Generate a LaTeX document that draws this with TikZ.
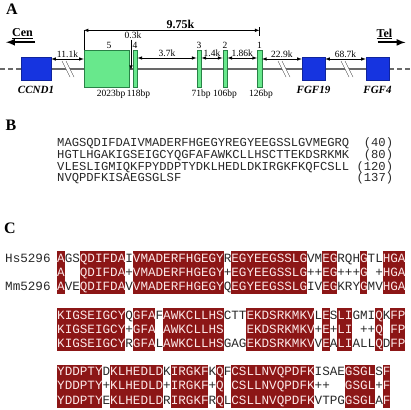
\documentclass[tikz,border=0pt]{standalone}
\usepackage{fontspec}
\setmainfont{Liberation Serif}
\setmonofont{Liberation Mono}
\usetikzlibrary{arrows,positioning,backgrounds}

\definecolor{geneblue}{RGB}{22,52,224}
\definecolor{exongreen}{RGB}{104,232,140}
\definecolor{exonline}{RGB}{40,130,70}
\definecolor{chromgray}{RGB}{105,105,105}
\definecolor{idred}{RGB}{140,22,22}
\definecolor{seqtext}{RGB}{40,40,40}
\definecolor{idtext}{RGB}{252,232,232}

\newcommand{\hl}[1]{\textcolor{idtext}{#1}}
% break marks on the chromosome line
\newcommand{\brk}[1]{\fill[white] ({#1-6},61) -- ({#1-2},61) -- ({#1+6},77) -- ({#1+2},77) -- cycle;
  \draw[chromgray!60!black] ({#1-6},61) -- ({#1+2},77) ({#1-2},61) -- ({#1+6},77)}
% red box over columns #2..#3 of an alignment block whose top is #1
\newcommand{\idbox}[3]{\fill[idred] ({57+(#2-1)*7.572},#1) rectangle ({57+#3*7.572},{#1+42.6})}

\begin{document}
\begin{tikzpicture}[x=1pt,y=-1pt,>=latex,thin]
  \tikzstyle{gene}=[draw=geneblue!70!black, fill=geneblue, minimum height=23pt, inner sep=0pt]
  \tikzstyle{exon}=[draw=exonline, fill=exongreen, minimum height=37pt, minimum width=4.5pt, inner sep=0pt]
  \tikzstyle{chrom}=[chromgray, line width=1.2pt]
  \tikzstyle{dist}=[line width=0.6pt]
  \tikzstyle{lbl}=[font=\fontsize{9.5}{10}\selectfont, inner sep=1pt]
  \tikzstyle{gname}=[font=\fontsize{11}{12}\selectfont\bfseries\itshape, inner sep=1pt]
  \tikzstyle{panel}=[font=\fontsize{16}{18}\selectfont\bfseries, inner sep=0pt]
  \tikzstyle{arm}=[font=\fontsize{12}{14}\selectfont\bfseries, inner sep=0pt]
  \tikzstyle{armarrow}=[->, line width=2pt]
  \tikzstyle{protseq}=[font=\fontsize{12.17}{14}\selectfont\ttfamily, text=seqtext, anchor=base west, inner sep=0pt]
  \tikzstyle{alnrow}=[font=\fontsize{12.62}{14}\selectfont\ttfamily, text=seqtext, anchor=base west, inner sep=0pt]

  \useasboundingbox (0,0) rectangle (410,410);

  % A: the locus
  \node[panel] (pa) at (12,9) {A};
  \node[arm] (cen) at (22.5,34) {\underline{Cen}};
  \node[arm] (tel) at (384.5,34) {\underline{Tel}};
  \draw[armarrow] ([shift={(2pt,-3pt)}]cen.south east) -- ([shift={(-6pt,-3pt)}]cen.south west);
  \draw[armarrow] ([shift={(1pt,-3pt)}]tel.south west) -- ([shift={(13pt,-3pt)}]tel.south east);

  \node[gene, minimum width=30pt] (ccnd) at (36,69) {};
  \node[exon, minimum width=45pt] (ex5) at (106.5,69) {};
  \node[exon] (ex4) at (135,69) {};
  \node[exon] (ex3) at (199,69) {};
  \node[exon] (ex2) at (225,69) {};
  \node[exon] (ex1) at (259.5,69) {};
  \node[gene, minimum width=23pt] (fgf19) at (313.5,69) {};
  \node[gene, minimum width=23pt] (fgf4) at (377.5,69) {};
  \coordinate (lend) at (0,69);
  \coordinate (rend) at (410,69);
  \begin{scope}[on background layer]
    \draw[chrom] (ccnd) -- (fgf4);
    \draw[chrom, dash pattern=on 5pt off 3pt] (lend) -- (ccnd);
    \draw[chrom, dash pattern=on 5pt off 3pt] (fgf4) -- (rend);
  \end{scope}
  \brk{68}; \brk{284}; \brk{347};

  \draw[dist,<->] ([yshift=10pt]ccnd.east) -- node[lbl,above]{11.1k} ([yshift=10pt]ex5.west);
  \draw[dist,<->] ([yshift=11pt]ex4.east) -- node[lbl,above]{3.7k} ([yshift=11pt]ex3.west);
  \draw[dist,<->] ([yshift=11pt]ex3.east) -- node[lbl,above]{1.4k} ([yshift=11pt]ex2.west);
  \draw[dist,<->] ([yshift=11pt]ex2.east) -- node[lbl,above]{1.86k} ([yshift=11pt]ex1.west);
  \draw[dist,<->] ([yshift=10pt]ex1.east) -- node[lbl,above]{22.9k} ([yshift=10pt]fgf19.west);
  \draw[dist,<->] ([yshift=10pt]fgf19.east) -- node[lbl,above]{68.7k} ([yshift=10pt]fgf4.west);

  \draw[dist] (ex5.north west) -- ++(0,-20) coordinate (sl);
  \coordinate (sr) at (sl -| ex1.north);
  \draw[dist,<->] (sl) -- node[font=\fontsize{12}{14}\selectfont\bfseries, above, pos=0.55, inner sep=1pt]{9.75k} (sr);
  \draw[dist] ([yshift=3pt]sr) -- ([yshift=-6pt]sr);

  \node[lbl] (d03) at (133,35) {0.3k};
  \coordinate (gap) at (131,70);
  \draw[dist,->] (gap |- d03.south) -- (gap);

  \node[lbl, above=1pt of ex5, xshift=2.5pt] (n5) {5};
  \node[lbl, above=1pt of ex4] (n4) {4};
  \node[lbl, above=1pt of ex3] (n3) {3};
  \node[lbl, above=1pt of ex2] (n2) {2};
  \node[lbl, above=1pt of ex1] (n1) {1};
  \node[lbl, below=1.5pt of ex5, xshift=4.5pt] (bp5) {2023bp};
  \node[lbl, below=1.5pt of ex4, xshift=3.5pt] (bp4) {118bp};
  \node[lbl, below=1.5pt of ex3, xshift=2pt] (bp3) {71bp};
  \node[lbl, below=1.5pt of ex2] (bp2) {106bp};
  \node[lbl, below=1.5pt of ex1, xshift=1.5pt] (bp1) {126bp};
  \node[gname, below=4.5pt of ccnd] (gccnd) {CCND1};
  \node[gname, below=4.5pt of fgf19] (gfgf19) {FGF19};
  \node[gname, below=4.5pt of fgf4] (gfgf4) {FGF4};

  % B: the protein
  \node[panel] (pb) at (11,125) {B};
  \node[protseq] (s1) at (57,146.8) {MAGSQDIFDAIVMADERFHGEGYREGYEEGSSLGVMEGRQ~~(40)};
  \node[protseq] (s2) at (57,158.5) {HGTLHGAKIGSEIGCYQGFAFAWKCLLHSCTTEKDSRKMK~~(80)};
  \node[protseq] (s3) at (57,170.2) {VLESLIGMIQKFPYDDPTYDKLHEDLDKIRGKFKQFCSLL~(120)};
  \node[protseq] (s4) at (57,181.9) {NVQPDFKISAEGSGLSF~~~~~~~~~~~~~~~~~~~~~~~~(137)};

  % C: human / mouse alignment
  \node[panel] (pc) at (10,228) {C};
  \foreach \a/\b in {1/1,4/9,11/22,24/33,36/37,41/41,44/46} {\idbox{251.4}{\a}{\b};}
  \foreach \a/\b in {1/9,11/13,15/22,26/34,36/36,38/39,43/43,45/46} {\idbox{308.4}{\a}{\b};}
  \foreach \a/\b in {1/6,8/14,16/20,22/22,24/34,39/42,44/44} {\idbox{364.9}{\a}{\b};}

  \node[alnrow] (hsname) at (5,262.1) {Hs5296};
  \node[alnrow] (mmname) at (5,290.5) {Mm5296};

  \node[alnrow] (hs1) at (57,262.1) {\hl{A}GS\hl{QDIFDA}I\hl{VMADERFHGEGY}R\hl{EGYEEGSSLG}VM\hl{EG}RQH\hl{G}TL\hl{HGA}};
  \node[alnrow] (md1) at (57,276.3) {\hl{A}~~\hl{QDIFDA}+\hl{VMADERFHGEGY}+\hl{EGYEEGSSLG}++\hl{EG}+++\hl{G}~+\hl{HGA}};
  \node[alnrow] (mm1) at (57,290.5) {\hl{A}VE\hl{QDIFDA}V\hl{VMADERFHGEGY}Q\hl{EGYEEGSSLG}IV\hl{EG}KRY\hl{G}MV\hl{HGA}};

  \node[alnrow] (hs2) at (57,319.1) {\hl{KIGSEIGCY}Q\hl{GFA}F\hl{AWKCLLHS}CTT\hl{EKDSRKMKV}L\hl{E}S\hl{LI}GMI\hl{Q}K\hl{FP}};
  \node[alnrow] (md2) at (57,333.3) {\hl{KIGSEIGCY}+\hl{GFA}~\hl{AWKCLLHS}~~~\hl{EKDSRKMKV}+\hl{E}+\hl{LI}~++\hl{Q}~\hl{FP}};
  \node[alnrow] (mm2) at (57,347.5) {\hl{KIGSEIGCY}R\hl{GFA}L\hl{AWKCLLHS}GAG\hl{EKDSRKMKV}V\hl{E}A\hl{LI}ALL\hl{Q}D\hl{FP}};

  \node[alnrow] (hs3) at (57,375.6) {\hl{YDDPTY}D\hl{KLHEDLD}K\hl{IRGKF}K\hl{Q}F\hl{CSLLNVQPDFK}ISAE\hl{GSGL}S\hl{F}};
  \node[alnrow] (md3) at (57,389.8) {\hl{YDDPTY}+\hl{KLHEDLD}+\hl{IRGKF}+\hl{Q}~\hl{CSLLNVQPDFK}++~~\hl{GSGL}+\hl{F}};
  \node[alnrow] (mm3) at (57,404.0) {\hl{YDDPTY}E\hl{KLHEDLD}R\hl{IRGKF}R\hl{Q}L\hl{CSLLNVQPDFK}VTPG\hl{GSGL}A\hl{F}};
\end{tikzpicture}
\end{document}
